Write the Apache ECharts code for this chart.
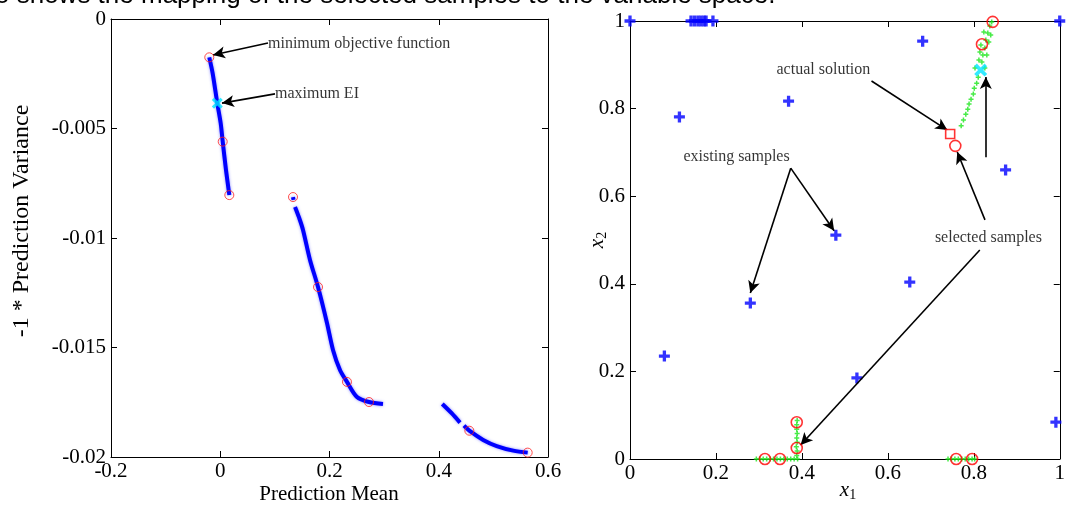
<!DOCTYPE html>
<html><head><meta charset="utf-8">
<script src="https://cdn.jsdelivr.net/npm/echarts@6/dist/echarts.min.js"></script>
<style>html,body{margin:0;padding:0;background:#fff;overflow:hidden}#c{width:1068px;height:505px;}</style>
</head><body><div id="c"></div>
<script>
// ---------- data ----------
// Left panel: prediction mean vs -1*prediction variance (dense candidate cloud, segments)
const leftSeg1 = [[-0.0201,-0.00175],[-0.0139,-0.00248],[-0.0054,-0.00385],[0.0008,-0.00476],[0.0045,-0.0056],[0.0105,-0.00689],[0.0166,-0.00804]];
const leftSeg2a = [[0.1332,-0.00813],[0.1342,-0.00826]];
const leftSeg2b = [[0.1369,-0.00858],[0.1440,-0.00905],[0.1515,-0.00963],[0.1643,-0.01100],[0.1790,-0.01224],[0.1954,-0.01388],[0.2064,-0.01511],[0.2192,-0.01603],[0.2320,-0.01657],[0.2503,-0.01726],[0.2723,-0.01749],[0.2979,-0.01758]];
const leftSeg3a = [[0.4065,-0.01758],[0.4236,-0.01800],[0.4389,-0.01843]];
const leftSeg3b = [[0.4462,-0.01857],[0.4560,-0.01880],[0.4813,-0.01922],[0.5061,-0.01950],[0.5365,-0.01971],[0.5628,-0.01980]];
const leftSelected = [[-0.0201,-0.00175],[0.0045,-0.0056],[0.0166,-0.00804],[0.1332,-0.00813],[0.1790,-0.01224],[0.2320,-0.01657],[0.2723,-0.01749],[0.4560,-0.0188],[0.5628,-0.0198]];
const leftMaxEI = [[-0.0054,-0.00385]];

// Right panel: variable space x1 vs x2
const existingSamples = [[0,1],[0.142,1],[0.150,1],[0.158,1],[0.165,1],[0.172,1],[0.177,1],[0.193,1],[1,1],
  [0.681,0.954],[0.369,0.817],[0.115,0.781],[0.874,0.660],[0.479,0.511],[0.651,0.404],[0.280,0.356],[0.080,0.235],[0.528,0.185],[0.991,0.084]];
const candidateUpper = [[0.7706,0.7610],[0.7759,0.7740],[0.7814,0.7870],[0.7860,0.7984],[0.7890,0.8105],[0.7936,0.8212],[0.7989,0.8333],[0.8011,0.8463],[0.8067,0.8577],[0.8103,0.8714],[0.8028,0.8927],[0.8257,0.8927],[0.8119,0.9110],[0.8188,0.9064],[0.8142,0.9292],[0.8211,0.9224],[0.8303,0.9224],[0.8165,0.9452],[0.8257,0.9384],[0.8349,0.9521],[0.8280,0.9566],[0.8234,0.9749],[0.8394,0.9680],[0.8326,0.9726],[0.8372,0.9886],[0.8417,0.9977]];
const candidateLowA = [[0.294,0],[0.302,0],[0.310,0],[0.318,0],[0.326,0],[0.334,0],[0.342,0],[0.350,0],[0.358,0],[0.366,0],[0.374,0],[0.382,0],[0.390,0]];
const candidateVert = [[0.388,0.008],[0.389,0.018],[0.387,0.028],[0.389,0.038],[0.388,0.048],[0.389,0.058],[0.388,0.068],[0.388,0.078],[0.389,0.088]];
const candidateLowB = [[0.740,0],[0.748,0],[0.756,0],[0.764,0],[0.772,0],[0.780,0],[0.788,0],[0.796,0],[0.802,0]];
const rightSelected = [[0.844,0.998],[0.819,0.947],[0.757,0.715],[0.314,0],[0.349,0],[0.388,0.084],[0.388,0.025],[0.759,0],[0.796,0]];
const rightMaxEI = [[0.816,0.888]];
const actualSolution = [[0.745,0.742]];

// Annotations (data coordinates)
const leftArrows = [[[0.0874,-0.00110],[-0.0133,-0.00164]],[[0.1002,-0.00342],[0.0032,-0.00384]]];
const leftNotes = [['minimum objective function',[0.0874,-0.00114]],['maximum EI',[0.1002,-0.00342]]];
const rightArrows = [[[0.562,0.863],[0.7385,0.751]],[[0.374,0.664],[0.280,0.379]],[[0.374,0.664],[0.475,0.521]],
  [[0.826,0.546],[0.7615,0.701]],[[0.828,0.689],[0.828,0.872]],[[0.814,0.477],[0.397,0.032]]];
const rightNotes = [['actual solution',[0.450,0.888]],['existing samples',[0.248,0.689]],['selected samples',[0.834,0.505]]];

// ---------- chart ----------
const SERIF = '"Liberation Serif", "Times New Roman", serif';
const PLUS = 'path://M3.5,0H6.5V3.5H10V6.5H6.5V10H3.5V6.5H0V3.5H3.5Z';
const XSYM = 'path://M0,2L2,0L5,3L8,0L10,2L7,5L10,8L8,10L5,7L2,10L0,8L3,5Z';

function xAx(grid, min, max, interval, top) {
  return {type:'value', gridIndex:grid, min:min, max:max, interval:interval, position: top?'top':'bottom',
    axisLine:{show:true, onZero:false, lineStyle:{color:'#000', width:1}},
    axisTick:{show:true, inside:true, length:6, lineStyle:{color:'#000'}},
    axisLabel:{show:!top, color:'#000', fontFamily:SERIF, fontSize:21, margin:4},
    splitLine:{show:false}};
}
function yAx(grid, min, max, interval, right) {
  return {type:'value', gridIndex:grid, min:min, max:max, interval:interval, position: right?'right':'left',
    axisLine:{show:true, onZero:false, lineStyle:{color:'#000', width:1}},
    axisTick:{show:true, inside:true, length:6, lineStyle:{color:'#000'}},
    axisLabel:{show:!right, color:'#000', fontFamily:SERIF, fontSize:21, margin:5},
    splitLine:{show:false}};
}

const series = [];
[leftSeg1, leftSeg2a, leftSeg2b, leftSeg3a, leftSeg3b].forEach(function(seg){
  series.push({type:'line', xAxisIndex:0, yAxisIndex:0, data:seg, showSymbol:false, smooth:0.3,
    lineStyle:{color:'#0000ff', width:4, shadowColor:'rgba(90,90,255,0.7)', shadowBlur:3}, silent:true});
});
series.push({type:'scatter', xAxisIndex:0, yAxisIndex:0, data:leftSelected, symbol:'circle', symbolSize:9, clip:false,
  itemStyle:{color:'rgba(0,0,0,0)', borderColor:'#ff2020', borderWidth:1}, z:5});
series.push({type:'scatter', xAxisIndex:0, yAxisIndex:0, data:leftMaxEI, symbol:XSYM, symbolSize:11, clip:false,
  itemStyle:{color:'#00e5ff'}, z:6});
series.push({type:'scatter', xAxisIndex:0, yAxisIndex:0, data:[], silent:true,
  markLine:{silent:true, animation:false, symbol:['none','arrow'], symbolSize:[9,12], precision:6,
    lineStyle:{color:'#000', width:1.6, type:'solid'}, label:{show:false},
    data:leftArrows.map(function(a){return [{coord:a[0]},{coord:a[1]}];})}});
series.push({type:'scatter', xAxisIndex:0, yAxisIndex:0, symbolSize:0, clip:false, silent:true,
  data:leftNotes.map(function(n){return {value:n[1], label:{show:true, formatter:n[0], position:'right', distance:0,
    fontFamily:SERIF, fontSize:16, color:'#000'}};})});

// right panel
[candidateUpper, candidateLowA, candidateVert, candidateLowB].forEach(function(g){
  series.push({type:'scatter', xAxisIndex:2, yAxisIndex:2, data:g, symbol:PLUS, symbolSize:5, clip:false,
    itemStyle:{color:'#19e619'}, z:3});
});
series.push({type:'scatter', xAxisIndex:2, yAxisIndex:2, data:existingSamples, symbol:PLUS, symbolSize:11, clip:false,
  itemStyle:{color:'#0000ff'}, z:4});
series.push({type:'scatter', xAxisIndex:2, yAxisIndex:2, data:rightSelected, symbol:'circle', symbolSize:11, clip:false,
  itemStyle:{color:'rgba(0,0,0,0)', borderColor:'#ff0000', borderWidth:1.6}, z:5});
series.push({type:'scatter', xAxisIndex:2, yAxisIndex:2, data:rightMaxEI, symbol:XSYM, symbolSize:13, clip:false,
  itemStyle:{color:'#00e5ff'}, z:6});
series.push({type:'scatter', xAxisIndex:2, yAxisIndex:2, data:actualSolution, symbol:'rect', symbolSize:9, clip:false,
  itemStyle:{color:'#fff', borderColor:'#ff0000', borderWidth:1.6}, z:6});
series.push({type:'scatter', xAxisIndex:2, yAxisIndex:2, data:[], silent:true,
  markLine:{silent:true, animation:false, symbol:['none','arrow'], symbolSize:[9,12], precision:6,
    lineStyle:{color:'#000', width:1.6, type:'solid'}, label:{show:false},
    data:rightArrows.map(function(a){return [{coord:a[0]},{coord:a[1]}];})}});
series.push({type:'scatter', xAxisIndex:2, yAxisIndex:2, symbolSize:0, clip:false, silent:true,
  data:rightNotes.map(function(n){return {value:n[1], label:{show:true, formatter:n[0], position:'inside',
    fontFamily:SERIF, fontSize:16, color:'#000'}};})});

const chart = echarts.init(document.getElementById('c'), null, {renderer:'canvas'});
chart.setOption({
  animation:false,
  backgroundColor:'#fff',
  grid:[{left:111, top:19, width:437, height:438},{left:630, top:21, width:436, height:438}],
  xAxis:[xAx(0,-0.2,0.6,0.2,false), xAx(0,-0.2,0.6,0.2,true), xAx(1,0,1,0.2,false), xAx(1,0,1,0.2,true)],
  yAxis:[yAx(0,-0.02,0,0.005,false), yAx(0,-0.02,0,0.005,true), yAx(1,0,1,0.2,false), yAx(1,0,1,0.2,true)],
  series:series,
  graphic:[
    {type:'text', left:-5, top:-17, silent:true,
      style:{text:'o shows the mapping of the selected samples to the variable space.', font:'26px "Liberation Sans", Arial, sans-serif', fill:'#000'}},
    {type:'text', x:22, y:221, rotation:Math.PI/2, silent:true,
      style:{text:'-1 * Prediction Variance', font:'24px '+SERIF, fill:'#000', align:'center', verticalAlign:'middle'}},
    {type:'text', x:329, y:494, silent:true,
      style:{text:'Prediction Mean', font:'21px '+SERIF, fill:'#000', align:'center', verticalAlign:'middle'}},
    {type:'text', x:848, y:490, silent:true,
      style:{text:'{v|x}{s|1}', align:'center', verticalAlign:'middle',
        rich:{v:{fontFamily:SERIF, fontStyle:'italic', fontSize:21, color:'#222'},
              s:{fontFamily:SERIF, fontSize:14, color:'#222', padding:[10,0,0,0]}}}},
    {type:'text', x:597, y:240, rotation:Math.PI/2, silent:true,
      style:{text:'{v|x}{s|2}', align:'center', verticalAlign:'middle',
        rich:{v:{fontFamily:SERIF, fontStyle:'italic', fontSize:21, color:'#222'},
              s:{fontFamily:SERIF, fontSize:14, color:'#222', padding:[10,0,0,0]}}}}
  ]
});
</script></body></html>
